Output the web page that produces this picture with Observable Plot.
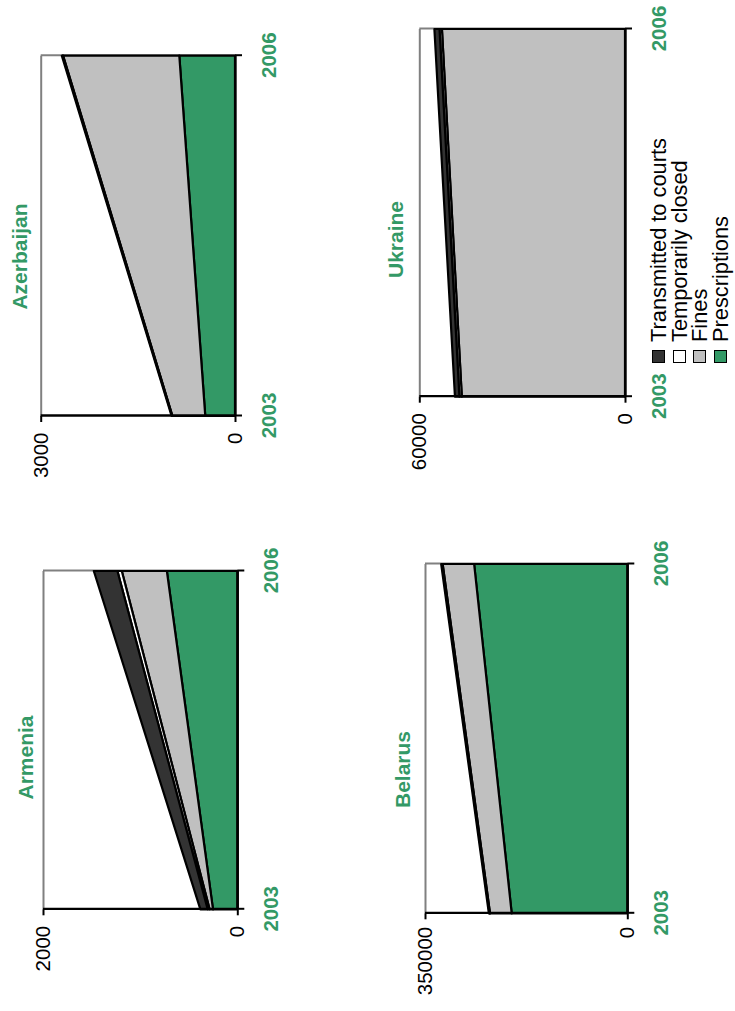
<!DOCTYPE html>
<html><head><meta charset="utf-8">
<script src="https://cdn.jsdelivr.net/npm/d3@7"></script>
<script src="https://cdn.jsdelivr.net/npm/@observablehq/plot@0.6"></script>
<style>
html,body{margin:0;padding:0;background:#fff;overflow:hidden;}
#stage{position:absolute;left:0;top:0;width:1011px;height:735px;transform-origin:0 0;transform:translate(0px,1011px) rotate(-90deg);font-family:"Liberation Sans",Arial,sans-serif;}
#stage svg{position:absolute;left:0;top:0;}
.lg-box{position:absolute;width:11px;height:11px;border:1px solid #000;}
.lg-txt{position:absolute;font-size:21.8px;line-height:20.7px;white-space:nowrap;color:#000;}
</style></head><body><div id="stage"></div>
<script>
// ---- data ----
const years = [2003, 2006];
const countries = ["Armenia", "Azerbaijan", "Belarus", "Ukraine"];
const seriesNames = ["Prescriptions", "Fines", "Temporarily closed", "Transmitted to courts"];
const legendOrder = ["Transmitted to courts", "Temporarily closed", "Fines", "Prescriptions"];
const seriesColors = ["#339966", "#c0c0c0", "#ffffff", "#333333"];
const yTickMax = [2000, 3000, 350000, 60000];
// values per country, [2003, 2006]
const prescriptions       = [[250, 725], [459, 860], [200000, 265000], [0, 0]];
const fines               = [[35, 464], [507, 1794], [37500, 54500], [47600, 53400]];
const temporarilyClosed   = [[20, 45], [5, 8], [800, 1000], [700, 700]];
const transmittedToCourts = [[75, 243], [8, 12], [1200, 1500], [1300, 1500]];
const seriesValues = [prescriptions, fines, temporarilyClosed, transmittedToCourts];

// ---- layout (unrotated page coordinates, 1011 x 735) ----
const W = 1011, H = 735;
const layout = [
  {left: 101.7, right: 440, top: 43, bottom: 237.3, titleX: 253, titleTop: 18, pad: 11},
  {left: 595, right: 955.3, top: 40.7, bottom: 235, titleX: 754, titleTop: 12, pad: 11},
  {left: 97.7, right: 447, top: 425, bottom: 627.3, titleX: 241, titleTop: 395, pad: 8},
  {left: 614.3, right: 982, top: 419.3, bottom: 625, titleX: 771, titleTop: 388, pad: 11}
];
const GREEN = "#339966";
const FONT = "Liberation Sans, Arial, sans-serif";
const stage = document.getElementById("stage");

countries.forEach((country, ci) => {
  const L = layout[ci];
  const max = yTickMax[ci];
  const rows = [];
  seriesNames.forEach((s, si) => {
    years.forEach((yr, yi) => rows.push({country, series: s, year: yr, value: seriesValues[si][ci][yi]}));
  });
  const chart = Plot.plot({
    width: W, height: H,
    marginLeft: L.left, marginRight: W - L.right, marginTop: L.top, marginBottom: H - L.bottom,
    style: {background: "transparent", fontFamily: FONT, overflow: "visible"},
    x: {domain: [years[0], years[years.length - 1]], axis: null},
    y: {domain: [0, max], axis: null},
    color: {domain: seriesNames, range: seriesColors},
    marks: [
      Plot.ruleY([max], {stroke: "#808080", strokeWidth: 2}),
      Plot.ruleX([years[years.length - 1]], {stroke: "#808080", strokeWidth: 2}),
      Plot.areaY(rows, {x: "year", y: "value", z: "series", fill: "series", order: seriesNames,
        stroke: "#000", strokeWidth: 2.2, strokeLinejoin: "round"}),
      Plot.ruleY([0], {stroke: "#000", strokeWidth: 2.3}),
      Plot.ruleX([years[0]], {stroke: "#000", strokeWidth: 2.3}),
      Plot.axisY([0, max], {anchor: "left", label: null, tickSize: 6, tickPadding: L.pad, strokeWidth: 2,
        stroke: "#000", fill: "#000", fontSize: 20.5, fontFamily: FONT, tickFormat: d => String(d)}),
      Plot.axisX(years, {anchor: "bottom", label: null, tickSize: 7, tickPadding: 19, strokeWidth: 2,
        stroke: "#000", fill: GREEN, fontSize: 20.5, fontWeight: "bold", fontFamily: FONT,
        tickFormat: d => String(d)}),
      Plot.text([country], {frameAnchor: "top-left", dx: L.titleX - L.left, dy: L.titleTop - L.top,
        lineAnchor: "top", textAnchor: "middle", fill: GREEN, fontWeight: "bold", fontSize: 21,
        fontFamily: FONT})
    ]
  });
  stage.appendChild(chart);
});

// legend
const colorOf = Object.fromEntries(seriesNames.map((s, i) => [s, seriesColors[i]]));
legendOrder.forEach((s, i) => {
  const box = document.createElement("div");
  box.className = "lg-box";
  box.style.left = "648px";
  box.style.top = (652 + i * 20.7) + "px";
  box.style.background = colorOf[s];
  stage.appendChild(box);
  const t = document.createElement("div");
  t.className = "lg-txt";
  t.style.left = "669px";
  t.style.top = (649 + i * 20.7) + "px";
  t.textContent = s;
  stage.appendChild(t);
});
</script></body></html>
